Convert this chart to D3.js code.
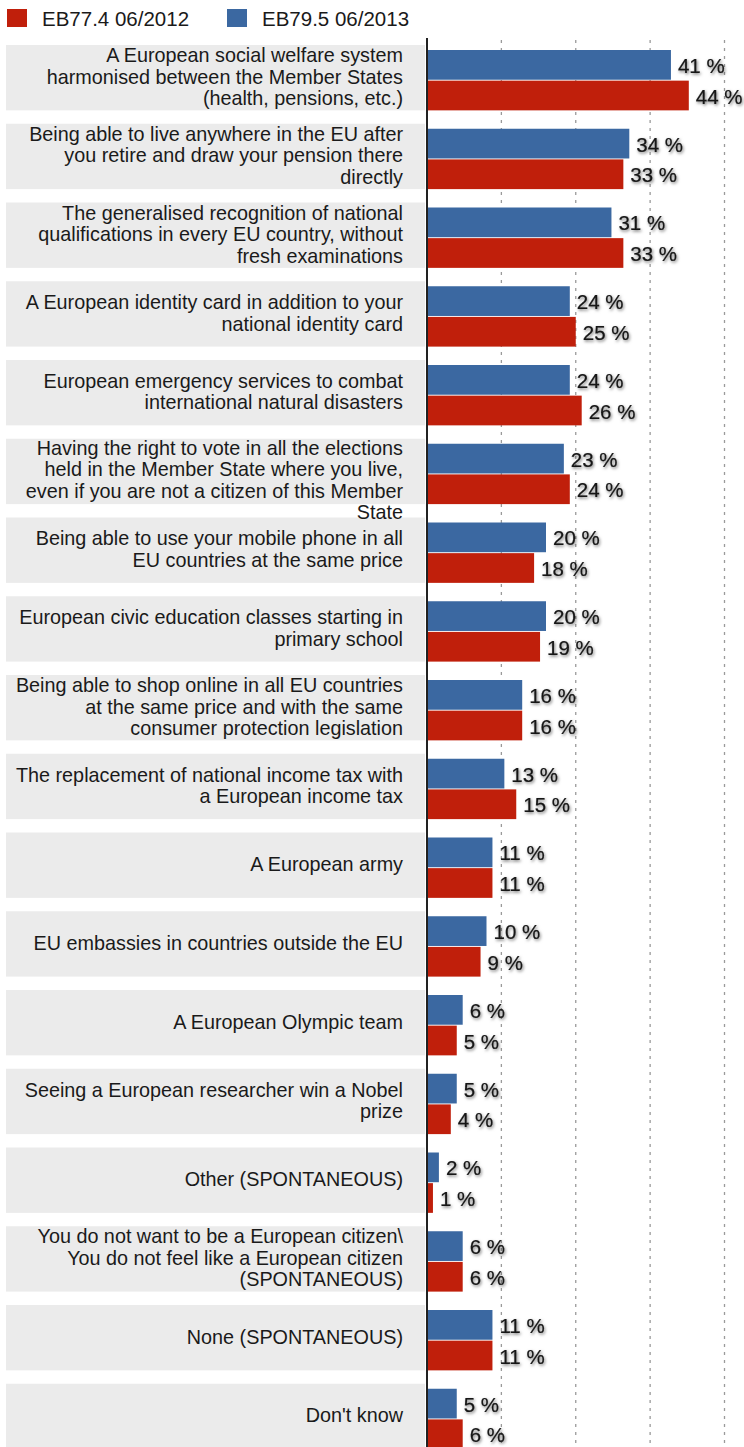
<!DOCTYPE html>
<html>
<head>
<meta charset="utf-8">
<script src="https://cdn.jsdelivr.net/npm/d3@7"></script>
<style>
  html, body { margin: 0; padding: 0; background: #fff; }
  svg { display: block; font-family: "Liberation Sans", Arial, Helvetica, sans-serif; }
</style>
</head>
<body>
<svg id="chart" width="744" height="1447"></svg>
<script>
const categories = [
  ["A European social welfare system", "harmonised between the Member States", "(health, pensions, etc.)"],
  ["Being able to live anywhere in the EU after", "you retire and draw your pension there", "directly"],
  ["The generalised recognition of national", "qualifications in every EU country, without", "fresh examinations"],
  ["A European identity card in addition to your", "national identity card"],
  ["European emergency services to combat", "international natural disasters"],
  ["Having the right to vote in all the elections", "held in the Member State where you live,", "even if you are not a citizen of this Member", "State"],
  ["Being able to use your mobile phone in all", "EU countries at the same price"],
  ["European civic education classes starting in", "primary school"],
  ["Being able to shop online in all EU countries", "at the same price and with the same", "consumer protection legislation"],
  ["The replacement of national income tax with", "a European income tax"],
  ["A European army"],
  ["EU embassies in countries outside the EU"],
  ["A European Olympic team"],
  ["Seeing a European researcher win a Nobel", "prize"],
  ["Other (SPONTANEOUS)"],
  ["You do not want to be a European citizen\\", "You do not feel like a European citizen", "(SPONTANEOUS)"],
  ["None (SPONTANEOUS)"],
  ["Don't know"]
];
const series = ["EB77.4 06/2012", "EB79.5 06/2013"];
const values2012 = [44, 33, 33, 25, 26, 24, 18, 19, 16, 15, 11, 9, 5, 4, 1, 6, 11, 6];
const values2013 = [41, 34, 31, 24, 24, 23, 20, 20, 16, 13, 11, 10, 6, 5, 2, 6, 11, 5];
const gridTicks = [12.5, 25, 37.5, 50];

const colors = { "EB77.4 06/2012": "#c01f0b", "EB79.5 06/2013": "#3b68a1" };

const svg = d3.select("#chart");

const defs = svg.append("defs");
const f = defs.append("filter").attr("id", "shadow")
  .attr("x", "-20%").attr("y", "-40%").attr("width", "150%").attr("height", "200%");
f.append("feDropShadow").attr("dx", 1).attr("dy", 1.5).attr("stdDeviation", 1.5)
  .attr("flood-color", "#000").attr("flood-opacity", 0.55);

const idx = d3.range(categories.length);
const rowStep = 78.75, padIn = 0.17, rowTop = 45;
const y = d3.scaleBand().domain(idx)
  .range([rowTop, rowTop + rowStep * (categories.length - padIn)])
  .paddingInner(padIn).paddingOuter(0);
const x = d3.scaleLinear().domain([0, 50]).range([427, 724.5]);
const ySub = d3.scaleBand().domain(["EB79.5 06/2013", "EB77.4 06/2012"])
  .range([5, y.bandwidth()]).paddingInner(0.03);

// gray label bands
svg.append("g").selectAll("rect").data(idx).join("rect")
  .attr("x", 6).attr("width", 419)
  .attr("y", d => y(d)).attr("height", y.bandwidth())
  .attr("fill", "#ebebeb");

// gridlines
svg.append("g").selectAll("line").data(gridTicks).join("line")
  .attr("x1", d => x(d)).attr("x2", d => x(d))
  .attr("y1", 40).attr("y2", 1447)
  .attr("stroke", "#9a9a9a").attr("stroke-width", 1.3)
  .attr("stroke-dasharray", "3,5");

// category labels
const lineH = 21.5, fs = 19.8;
const lab = svg.append("g").attr("font-size", fs).attr("fill", "#1a1a1a").attr("text-anchor", "end");
idx.forEach(i => {
  const lines = categories[i];
  const n = lines.length;
  const center = y(i) + y.bandwidth() / 2;
  let first = center - (n - 1) * lineH / 2 + 6;
  first = Math.max(first, y(i) + 16);
  const t = lab.append("text").attr("x", 403).attr("y", first);
  lines.forEach((ln, k) => {
    t.append("tspan").attr("x", 403).attr("y", first + k * lineH).text(ln);
  });
});

// bars
const rows = idx.map(i => ({ i, vals: [
  { s: "EB79.5 06/2013", v: values2013[i] },
  { s: "EB77.4 06/2012", v: values2012[i] }
]}));
const gRows = svg.append("g").selectAll("g").data(rows).join("g")
  .attr("transform", d => `translate(0,${y(d.i)})`);
gRows.selectAll("rect").data(d => d.vals).join("rect")
  .attr("x", x(0)).attr("y", d => ySub(d.s))
  .attr("width", d => x(d.v) - x(0)).attr("height", ySub.bandwidth())
  .attr("fill", d => colors[d.s]);
gRows.selectAll("text").data(d => d.vals).join("text")
  .attr("x", d => x(d.v) + 7)
  .attr("y", d => ySub(d.s) + ySub.bandwidth() / 2 + 0.5)
  .attr("dominant-baseline", "central")
  .attr("font-size", 20.5).attr("fill", "#151515")
  .attr("stroke", "#151515").attr("stroke-width", 0.2)
  .attr("filter", "url(#shadow)")
  .text(d => d.v + " %");

// axis line
svg.append("line").attr("x1", x(0)).attr("x2", x(0)).attr("y1", 38).attr("y2", 1447)
  .attr("stroke", "#222").attr("stroke-width", 2);

// legend
const legX = [7, 227];
const leg = svg.append("g").selectAll("g").data(series).join("g")
  .attr("transform", (d, k) => `translate(${legX[k]},9)`);
leg.append("rect").attr("width", 20).attr("height", 18).attr("fill", d => colors[d]);
leg.append("text").attr("x", 35).attr("y", 17).attr("font-size", 20.5)
  .attr("fill", "#1a1a1a").text(d => d);
</script>
</body>
</html>
